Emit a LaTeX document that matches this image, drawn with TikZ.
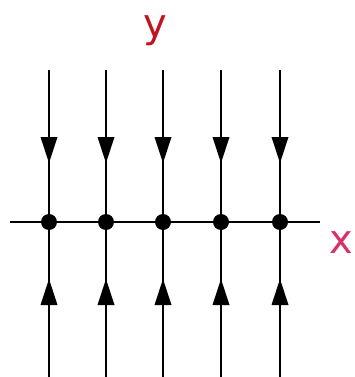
\documentclass[tikz,border=0pt]{standalone}
\usepackage{fontspec}
\setsansfont{DejaVu Sans}
\definecolor{ylab}{HTML}{C0141E}
\definecolor{xlab}{HTML}{D6336B}
\tikzset{
  axis/.style={line width=2.4pt, black},
  fixpt/.style={circle, fill=black, inner sep=0pt, minimum size=16pt},
  tipdown/.style={fill=black},
  lab/.style={font=\sffamily\fontsize{40}{40}\selectfont, inner sep=0pt}
}
\begin{document}
\begin{tikzpicture}[x=1pt,y=-1pt]
\useasboundingbox (0,0) rectangle (355,377);
\coordinate (hl) at (10,222);
\coordinate (hr) at (320,222);
\draw[axis] (hl) -- (hr);
\foreach \i/\x in {1/49,2/106,3/163,4/221,5/280}{
  \coordinate (t\i) at (\x,70);
  \coordinate (b\i) at (\x,377);
  \draw[axis] (t\i) -- (b\i);
  \node[fixpt] (p\i) at (\x,222) {};
  \fill[tipdown] (\x-8.5,137) -- (\x+8.5,137) -- (\x,163) -- cycle;
  \fill[tipdown] (\x-8.5,305) -- (\x+8.5,305) -- (\x,279) -- cycle;
}
\node[lab, text=ylab] (ylab) at (155,31) {y};
\node[lab, text=xlab] (xlab) at (341,243) {x};
\end{tikzpicture}
\end{document}
